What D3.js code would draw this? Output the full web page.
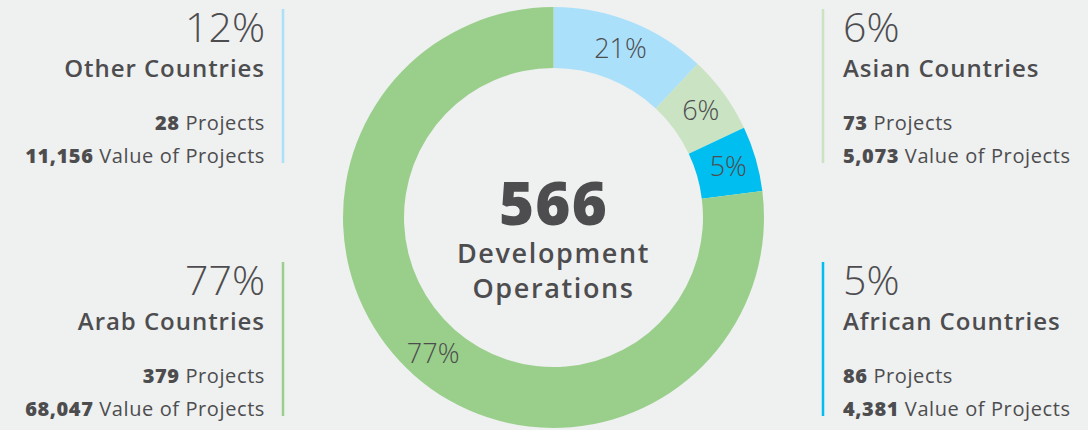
<!DOCTYPE html>
<html>
<head>
<meta charset="utf-8">
<script src="https://cdn.jsdelivr.net/npm/d3@7"></script>
<style>
  html, body { margin: 0; padding: 0; background: #eff0f0; }
  svg { display: block; font-family: "Open Sans", Lato, sans-serif; }
</style>
</head>
<body>
<svg id="chart" width="1088" height="430"></svg>
<script>
// data, in pie order (clockwise from 12 o'clock)
const regions = ['Other Countries', 'Asian Countries', 'African Countries', 'Arab Countries']
const shares = [12, 6, 5, 77]
const sliceLabels = ['21%', '6%', '5%', '77%']
const projects = [28, 73, 86, 379]
const projectValues = [11156, 5073, 4381, 68047]
const total = 566
const colors = ['#abe0fb', '#c9e3c3', '#00bff0', '#99cf8b']

const cx = 553.5
const cy = 217.5
const outer = 210.5
const inner = 149.5
const ink = '#4d4d4f'

const svg = d3.select('#chart')

const pie = d3.pie().sort(null).value(d => d)
const arc = d3.arc().innerRadius(inner).outerRadius(outer)
const labelArc = d3.arc().innerRadius(182).outerRadius(182)
const arcs = pie(shares)

const g = svg.append('g').attr('transform', `translate(${cx},${cy})`)

g.selectAll('path')
  .data(arcs)
  .join('path')
  .attr('d', arc)
  .attr('fill', (d, i) => colors[i])

g.selectAll('text.slice')
  .data(arcs)
  .join('text')
  .attr('class', 'slice')
  .attr('transform', d => `translate(${labelArc.centroid(d)})`)
  .attr('text-anchor', 'middle')
  .attr('dy', '0.35em')
  .attr('fill', ink)
  .attr('font-size', 27)
  .attr('font-weight', 300)
  .text((d, i) => sliceLabels[i])

// centre text
g.append('text')
  .attr('text-anchor', 'middle')
  .attr('y', 7)
  .attr('fill', ink)
  .attr('font-size', 60)
  .attr('font-weight', 800)
  .attr('letter-spacing', '0.02em')
  .text(total)

g.append('text')
  .attr('text-anchor', 'middle')
  .attr('fill', ink)
  .attr('font-size', 27)
  .attr('font-weight', 600)
  .attr('letter-spacing', '0.06em')
  .selectAll('tspan')
  .data(['Development', 'Operations'])
  .join('tspan')
  .attr('x', 0)
  .attr('y', (d, i) => 45 + i * 35)
  .text(d => d)

// side blocks: which corner each region sits in
const corner = {
  'Other Countries': { side: 'left', row: 0 },
  'Asian Countries': { side: 'right', row: 0 },
  'African Countries': { side: 'right', row: 1 },
  'Arab Countries': { side: 'left', row: 1 }
}
const fmt = d3.format(',')

regions.forEach((name, i) => {
  const c = corner[name]
  const left = c.side === 'left'
  const x = left ? 265 : 843
  const top = c.row === 0 ? 0 : 253
  const anchor = left ? 'end' : 'start'
  const blk = svg.append('g').attr('transform', `translate(${x},${top})`)

  blk.append('line')
    .attr('x1', left ? 18 : -20).attr('x2', left ? 18 : -20)
    .attr('y1', 9).attr('y2', 163)
    .attr('stroke', colors[i])
    .attr('stroke-width', 2.5)

  blk.append('text')
    .attr('text-anchor', anchor)
    .attr('y', 42)
    .attr('fill', ink)
    .attr('font-size', 41)
    .attr('font-weight', 300)
    .text(shares[i] + '%')

  blk.append('text')
    .attr('text-anchor', anchor)
    .attr('y', 77)
    .attr('fill', ink)
    .attr('font-size', 24)
    .attr('font-weight', 600)
    .attr('letter-spacing', '0.04em')
    .text(name)

  const p = blk.append('text')
    .attr('text-anchor', anchor)
    .attr('y', 130)
    .attr('fill', ink)
    .attr('font-size', 20)
    .attr('letter-spacing', '0.03em')
  p.append('tspan').attr('font-weight', 800).text(projects[i])
  p.append('tspan').text(' Projects')

  const v = blk.append('text')
    .attr('text-anchor', anchor)
    .attr('y', 163)
    .attr('fill', ink)
    .attr('font-size', 20)
    .attr('letter-spacing', '0.03em')
  v.append('tspan').attr('font-weight', 800).text(fmt(projectValues[i]))
  v.append('tspan').text(' Value of Projects')
})
</script>
</body>
</html>
